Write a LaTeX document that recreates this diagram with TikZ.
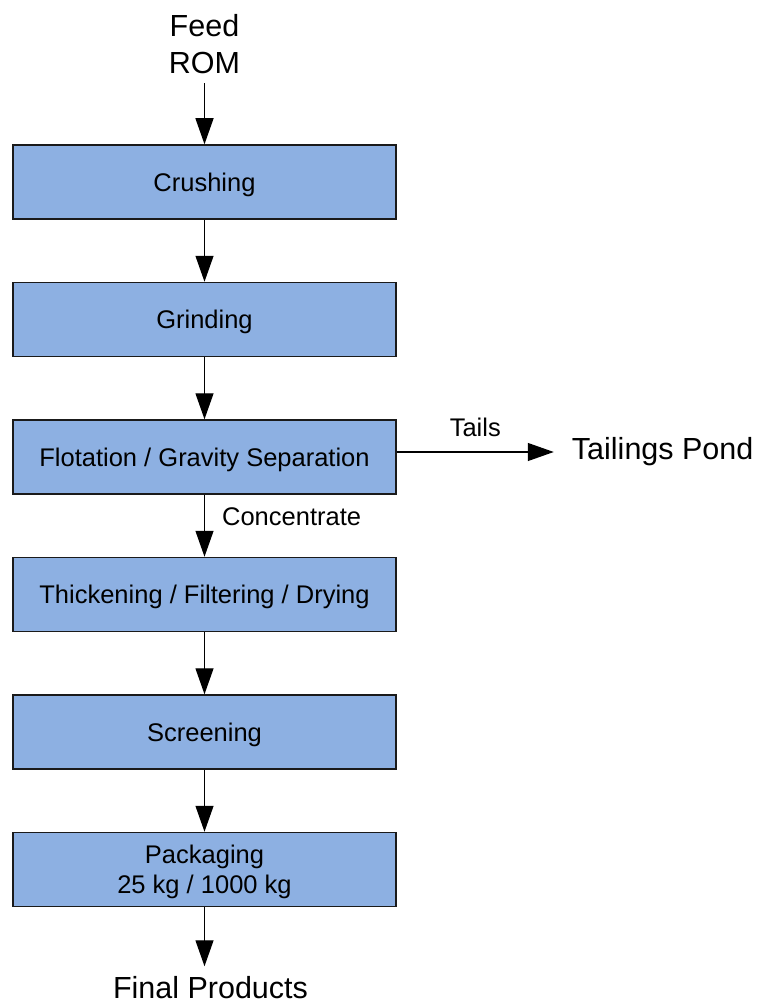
\documentclass[tikz,border=0pt]{standalone}
\usepackage{fontspec}
\setmainfont{Liberation Sans}
\usepackage{xcolor}
\usepackage{tikz}
\usetikzlibrary{arrows.meta,positioning}
\definecolor{procblue}{RGB}{141,176,226}
\definecolor{procdark}{RGB}{26,26,26}

\begin{document}
\begin{tikzpicture}[
    x=1pt, y=-1pt,
    node distance=62pt,
    every node/.style={align=center},
    procbox/.style={rectangle, draw=procdark, fill=procblue, minimum width=383pt, minimum height=74pt, inner sep=0pt, text depth=0pt, line width=1.5pt, font=\fontsize{25.5}{30}\selectfont},
    endtext/.style={inner xsep=0pt, inner ysep=9pt, font=\fontsize{30.5}{37}\selectfont},
    flowlbl/.style={inner sep=0pt, font=\fontsize{25.5}{30}\selectfont},
    arr/.style={-{Triangle[length=26pt, width=18pt]}, line width=1.3pt, draw=black}
]
\useasboundingbox (0,0) rectangle (762,1003);

\node[procbox] (crush) at (204.5,182) {Crushing};
\node[procbox, below=of crush] (grind) {Grinding};
\node[procbox, below=of grind] (flot) {Flotation / Gravity Separation};
\node[procbox, below=of flot] (thick) {Thickening / Filtering / Drying};
\node[procbox, below=of thick] (screen) {Screening};
\node[procbox, below=of screen] (pack) {Packaging\\25 kg / 1000 kg};

\node[endtext, above=61pt of crush] (feed) {Feed\\ROM};
\node[endtext, inner ysep=10pt, below=59pt of pack, xshift=6pt] (final) {Final Products};
\node[endtext, inner xsep=18pt, right=157pt of flot, yshift=5pt] (tail) {Tailings Pond};

\draw[arr] (feed) -- (crush);
\draw[arr] (crush) -- (grind);
\draw[arr] (grind) -- (flot);
\draw[arr] (flot) -- node[flowlbl, pos=0.36, right=17pt] (conc) {Concentrate} (thick);
\draw[arr] (flot.east |- tail.west) -- node[flowlbl, midway, above=15pt] (tails) {Tails} (tail.west);
\draw[arr] (thick) -- (screen);
\draw[arr] (screen) -- (pack);
\draw[arr] (pack) -- (final.north -| pack.south);

\end{tikzpicture}
\end{document}
